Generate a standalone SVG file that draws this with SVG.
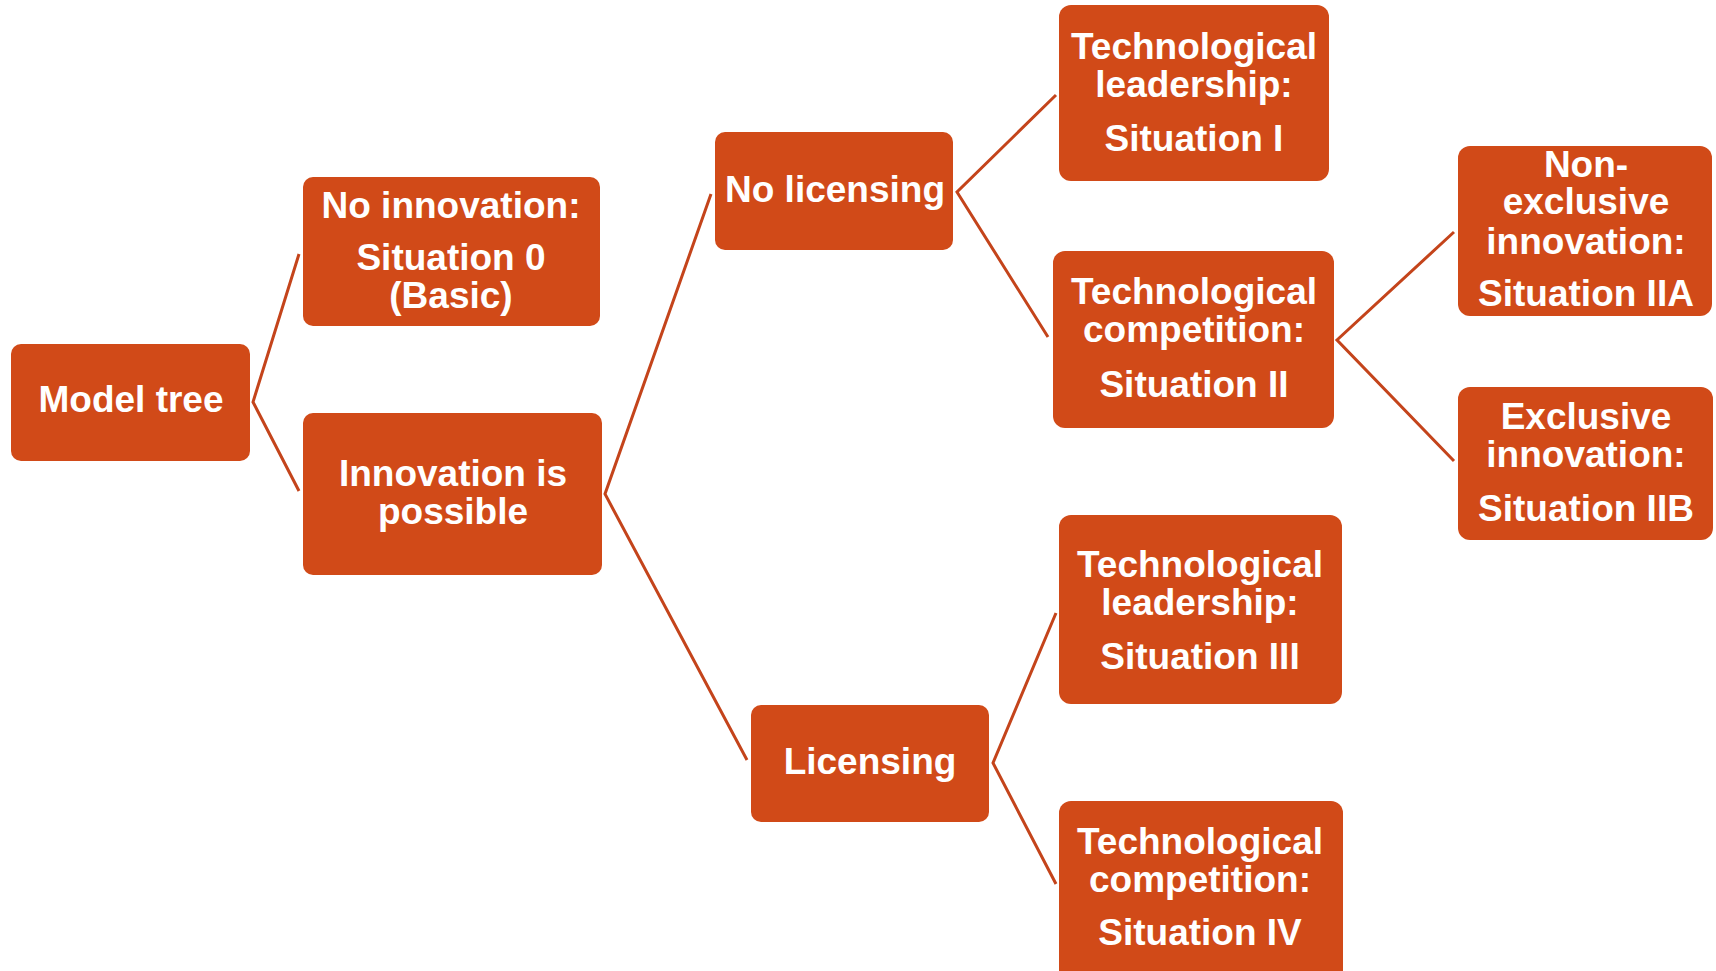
<svg xmlns="http://www.w3.org/2000/svg" width="1716" height="971" viewBox="0 0 1716 971">
<style>
.box{fill:#D14A18;}
.t{font-family:"Liberation Sans",Arial,sans-serif;font-weight:bold;font-size:37px;fill:#FFFFFF;text-anchor:middle;}
.c{stroke:#C4441B;stroke-width:3;fill:none;}
</style>
<rect width="1716" height="971" fill="#FFFFFF"/>
<g id="connectors">
<polyline class="c" points="299,254 253,402 299,491"/>
<polyline class="c" points="711,194 605,494 747,760"/>
<polyline class="c" points="1056,95 957,192 1048,337"/>
<polyline class="c" points="1056,613 993,763 1056,884"/>
<polyline class="c" points="1454,232 1337,340 1454,461"/>
</g>
<g id="model-tree">
<rect class="box" x="11" y="344" width="239" height="117" rx="10"/>
<text class="t" x="131" y="412">Model tree</text>
</g>
<g id="no-innovation">
<rect class="box" x="303" y="177" width="297" height="149" rx="10"/>
<text class="t" x="451" y="218">No innovation:</text>
<text class="t" x="451" y="270">Situation 0</text>
<text class="t" x="451" y="308">(Basic)</text>
</g>
<g id="innovation-possible">
<rect class="box" x="303" y="413" width="299" height="162" rx="10"/>
<text class="t" x="453" y="486">Innovation is</text>
<text class="t" x="453" y="524">possible</text>
</g>
<g id="no-licensing">
<rect class="box" x="715" y="132" width="238" height="118" rx="10"/>
<text class="t" x="835" y="202">No licensing</text>
</g>
<g id="licensing">
<rect class="box" x="751" y="705" width="238" height="117" rx="10"/>
<text class="t" x="870" y="774">Licensing</text>
</g>
<g id="situation-1">
<rect class="box" x="1059" y="5" width="270" height="176" rx="12"/>
<text class="t" x="1194" y="59">Technological</text>
<text class="t" x="1194" y="97">leadership:</text>
<text class="t" x="1194" y="151">Situation I</text>
</g>
<g id="situation-2">
<rect class="box" x="1053" y="251" width="281" height="177" rx="12"/>
<text class="t" x="1194" y="304">Technological</text>
<text class="t" x="1194" y="342">competition:</text>
<text class="t" x="1194" y="397">Situation II</text>
</g>
<g id="situation-2a">
<rect class="box" x="1458" y="146" width="254" height="170" rx="12"/>
<text class="t" x="1586" y="177">Non-</text>
<text class="t" x="1586" y="214">exclusive</text>
<text class="t" x="1586" y="254">innovation:</text>
<text class="t" x="1586" y="306">Situation IIA</text>
</g>
<g id="situation-2b">
<rect class="box" x="1458" y="387" width="255" height="153" rx="12"/>
<text class="t" x="1586" y="429">Exclusive</text>
<text class="t" x="1586" y="467">innovation:</text>
<text class="t" x="1586" y="521">Situation IIB</text>
</g>
<g id="situation-3">
<rect class="box" x="1059" y="515" width="283" height="189" rx="12"/>
<text class="t" x="1200" y="577">Technological</text>
<text class="t" x="1200" y="615">leadership:</text>
<text class="t" x="1200" y="669">Situation III</text>
</g>
<g id="situation-4">
<rect class="box" x="1059" y="801" width="284" height="185" rx="12"/>
<text class="t" x="1200" y="854">Technological</text>
<text class="t" x="1200" y="892">competition:</text>
<text class="t" x="1200" y="945">Situation IV</text>
</g>
</svg>
